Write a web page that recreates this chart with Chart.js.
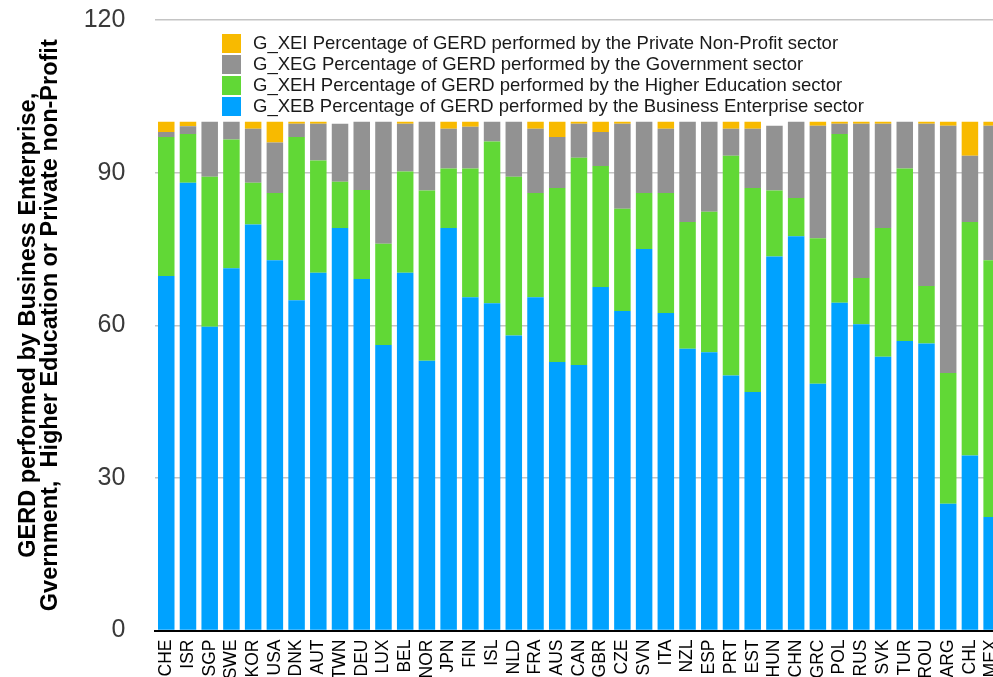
<!DOCTYPE html>
<html>
<head>
<meta charset="utf-8">
<script src="https://cdn.jsdelivr.net/npm/chart.js@4.4.1/dist/chart.umd.min.js"></script>
<style>
  html, body { margin: 0; padding: 0; overflow: hidden; background: #fff; width: 993px; height: 677px; }
  #wrap { position: absolute; left: 0; top: 0; width: 1005px; height: 700px; }
</style>
</head>
<body>
<div id="wrap"><canvas id="c" width="1005" height="700"></canvas></div>
<script>
const categories = ['CHE','ISR','SGP','SWE','KOR','USA','DNK','AUT','TWN','DEU','LUX','BEL','NOR','JPN','FIN','ISL','NLD','FRA','AUS','CAN','GBR','CZE','SVN','ITA','NZL','ESP','PRT','EST','HUN','CHN','GRC','POL','RUS','SVK','TUR','ROU','ARG','CHL','MEX'];

const xeb = [69.7,88.0,59.7,71.2,79.8,72.8,64.9,70.3,79.1,69.1,56.1,70.3,53.0,79.1,65.5,64.3,58.0,65.5,52.8,52.2,67.5,62.8,75.0,62.4,55.4,54.7,50.1,46.9,73.5,77.5,48.5,64.4,60.2,53.8,56.9,56.4,24.9,34.4,22.3];
const xeh = [27.3,9.6,29.5,25.3,8.2,13.2,32.1,22.1,9.1,17.5,19.9,19.9,33.5,11.7,25.3,31.8,31.2,20.5,34.2,40.7,23.8,20.1,11.0,23.6,24.9,27.6,43.2,40.1,13.0,7.5,28.6,33.2,9.1,25.3,33.9,11.3,25.7,45.9,50.5];
const xeg = [1.0,1.5,10.8,3.5,10.6,9.9,2.6,7.2,11.4,13.4,24.0,9.4,13.5,7.8,8.2,3.9,10.8,12.6,10.0,6.7,6.7,16.7,14.0,12.6,19.7,17.7,5.3,11.6,12.7,15.0,22.1,2.0,30.3,20.5,9.2,31.9,48.6,13.0,26.4];
const xei = [2.0,0.9,0,0,1.4,4.1,0.4,0.4,0,0,0,0.4,0,1.4,1.0,0,0,1.4,3.0,0.4,2.0,0.4,0,1.4,0,0,1.4,1.4,0,0,0.8,0.4,0.4,0.4,0,0.4,0.8,6.7,0.8];

const yTicks = [0, 30, 60, 90, 120];
const seriesNames = [
  'G_XEB Percentage of GERD performed by the Business Enterprise sector',
  'G_XEH Percentage of GERD performed by the Higher Education sector',
  'G_XEG Percentage of GERD performed by the Government sector',
  'G_XEI Percentage of GERD performed by the Private Non-Profit sector'
];
const yTitle = ['GERD performed by Business Enterprise,', 'Gvernment,  Higher Education or Private non-Profit'];

const colors = ['#00A2FF', '#61D836', '#929292', '#F8BA00'];
const FONT = "'Liberation Sans', Arial, Helvetica, sans-serif";

const legendPlugin = {
  id: 'innerLegend',
  afterDraw(chart) {
    const ctx = chart.ctx;
    const ds = chart.data.datasets.slice().reverse();
    ctx.save();
    ctx.font = '18.5px ' + FONT;
    ctx.textBaseline = 'middle';
    ctx.textAlign = 'left';
    ds.forEach((d, i) => {
      const y = 34 + i * 21;
      ctx.fillStyle = d.backgroundColor;
      ctx.fillRect(222, y, 19, 19);
      ctx.fillStyle = '#1a1a1a';
      ctx.fillText(d.label, 253, y + 10);
    });
    ctx.restore();
  }
};

const data = {
  labels: categories,
  datasets: [xeb, xeh, xeg, xei].map((vals, i) => ({
    label: seriesNames[i],
    data: vals,
    backgroundColor: colors[i],
    borderWidth: 0,
    barPercentage: 0.76,
    categoryPercentage: 1.0
  }))
};

new Chart(document.getElementById('c'), {
  type: 'bar',
  data,
  options: {
    responsive: false,
    animation: false,
    devicePixelRatio: 1,
    layout: { autoPadding: false, padding: { top: 20, left: 0, right: 2.5, bottom: 0 } },
    plugins: { legend: { display: false }, tooltip: { enabled: false } },
    scales: {
      x: {
        stacked: true,
        grid: { display: false, drawTicks: false },
        border: { display: true, color: '#000', width: 2 },
        ticks: {
          autoSkip: false, minRotation: 90, maxRotation: 90, padding: 9,
          color: '#000', font: { family: FONT, size: 17.5 }
        },
        afterFit(scale) { scale.height = 69.5; scale.paddingLeft = 0; scale.paddingRight = 0; }
      },
      y: {
        stacked: true,
        min: 0, max: 120,
        afterBuildTicks(scale) { scale.ticks = yTicks.map(v => ({ value: v })); },
        grid: { color: '#C4C4C4', lineWidth: 1.5, drawTicks: false },
        border: { display: false },
        ticks: { padding: 30, color: '#3a3a3a', font: { family: FONT, size: 25 } },
        title: {
          display: true, text: yTitle, align: 'center', color: '#000',
          font: { family: FONT, size: 23.5, weight: 'bold', lineHeight: '22px' },
          padding: { top: 18, bottom: 0 }
        },
        afterFit(scale) { scale.width = 155.4; scale.paddingTop = 0; scale.paddingBottom = 0; }
      }
    }
  },
  plugins: [legendPlugin]
});
</script>
</body>
</html>
